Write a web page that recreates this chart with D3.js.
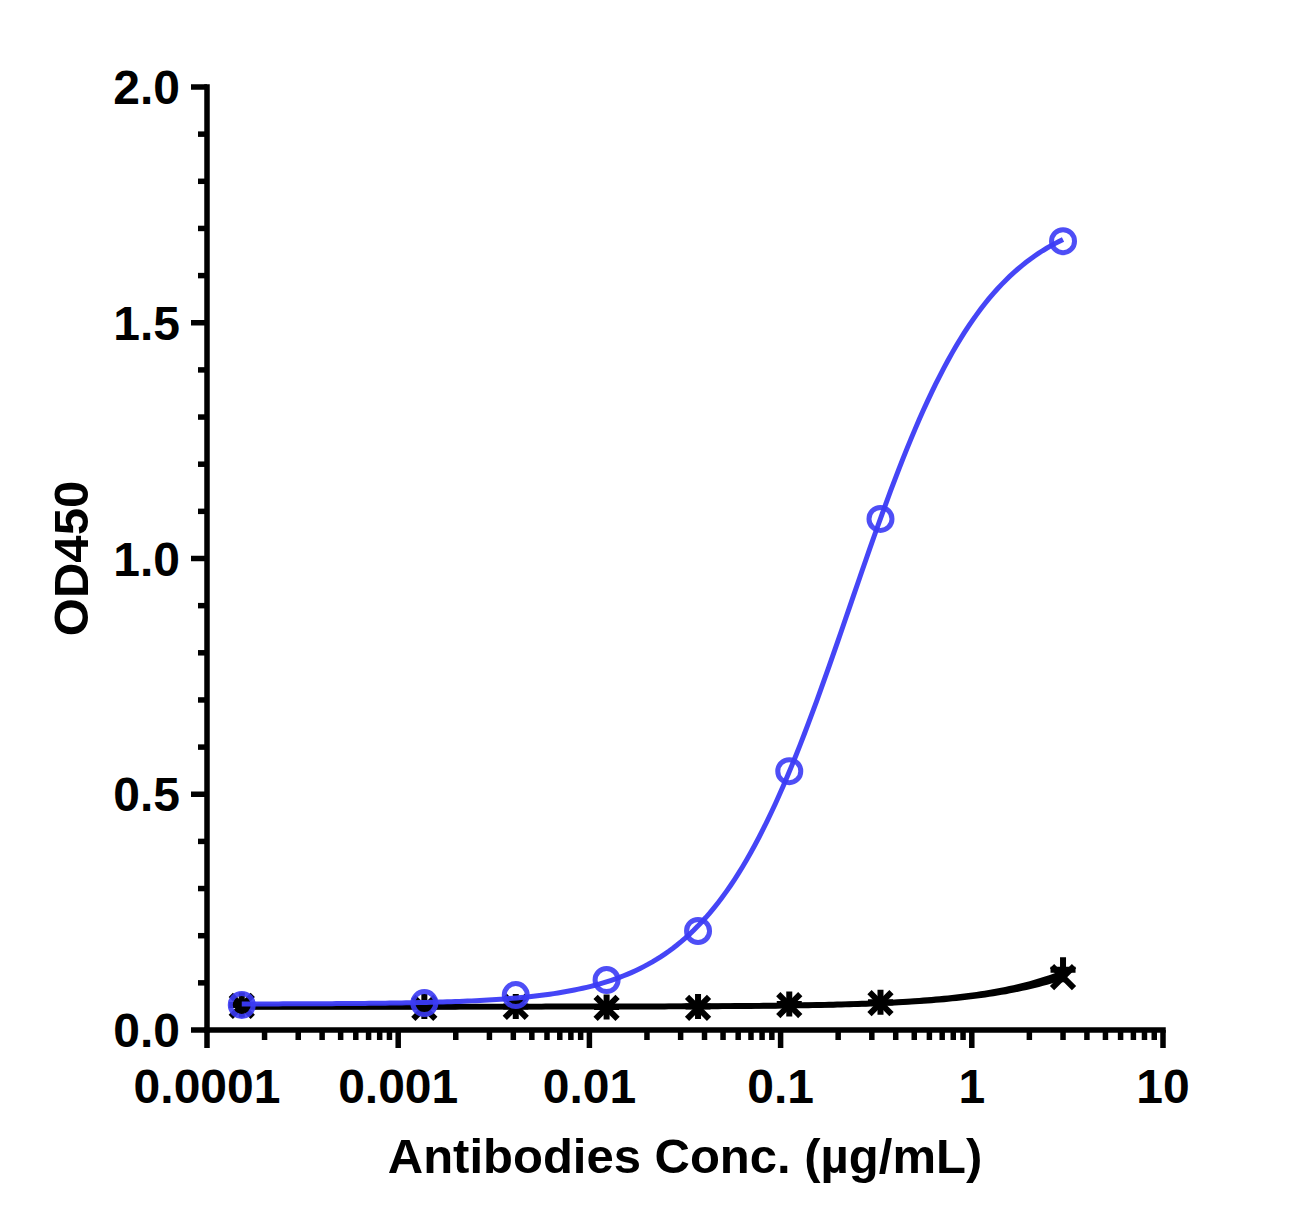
<!DOCTYPE html>
<meta charset="utf-8">
<head>
    <title>OD450 vs Antibodies Conc.</title>
    <script type="text/javascript" src="https://d3js.org/d3.v7.min.js"></script>
    <style>
        body { margin: 0; background: #fff; }
        text { font-family: "Liberation Sans", Arial, sans-serif; font-weight: bold; }
    </style>
</head>
<body>
<script>
    // data
    var conc = [0.000152, 0.00137, 0.00412, 0.0123, 0.037, 0.111, 0.333, 3];
    var odBlue = [0.053, 0.057, 0.074, 0.106, 0.21, 0.549, 1.084, 1.673];
    var odCross = [0.051, 0.047, 0.049, 0.047, 0.047, 0.053, 0.057, 0.112];
    var odPlus = [0.053, 0.050, 0.050, 0.049, 0.050, 0.055, 0.059, 0.128];

    // 4PL fit parameters for each series: bottom, top, EC50, hill
    var fitBlue = [0.055, 1.75, 0.232, 1.21];
    var fitCross = [0.049, 1.0, 42, 1.0];
    var fitPlus = [0.050, 1.0, 33, 1.05];

    var xTicks = [0.0001, 0.001, 0.01, 0.1, 1, 10];
    var xTickLabels = ["0.0001", "0.001", "0.01", "0.1", "1", "10"];
    var yTicks = [0, 0.5, 1.0, 1.5, 2.0];

    var width = 1316, height = 1228;
    var plotLeft = 207, plotRight = 1163, plotTop = 87, plotBottom = 1030;
    var blue = "#3b3bf5";
    var sw = 5.5;

    var svg = d3.select('body').append('svg')
        .attr('width', width)
        .attr('height', height);

    var x = d3.scaleLog().domain([0.0001, 10]).range([plotLeft, plotRight]);
    var y = d3.scaleLinear().domain([0, 2]).range([plotBottom, plotTop]);

    function fourPL(p, c) {
        return p[0] + (p[1] - p[0]) / (1 + Math.pow(p[2] / c, p[3]));
    }

    // minor ticks
    var xMinor = [];
    for (var e = -4; e < 1; e++) {
        for (var k = 2; k <= 9; k++) xMinor.push(k * Math.pow(10, e));
    }
    var yMinor = d3.range(0, 2.001, 0.1).filter(function(v) {
        return Math.abs(v * 2 - Math.round(v * 2)) > 1e-6;
    });

    // x axis
    var gx = svg.append('g').attr('transform', 'translate(0,' + plotBottom + ')');
    gx.append('line').attr('x1', plotLeft - sw / 2).attr('x2', plotRight + sw / 2)
        .attr('stroke', '#000').attr('stroke-width', sw);
    gx.selectAll('.xmaj').data(xTicks).enter().append('line')
        .attr('x1', function(d){ return x(d); }).attr('x2', function(d){ return x(d); })
        .attr('y1', 0).attr('y2', 18)
        .attr('stroke', '#000').attr('stroke-width', sw);
    gx.selectAll('.xmin').data(xMinor).enter().append('line')
        .attr('x1', function(d){ return x(d); }).attr('x2', function(d){ return x(d); })
        .attr('y1', 0).attr('y2', 10)
        .attr('stroke', '#000').attr('stroke-width', sw);
    gx.selectAll('.xlab').data(xTicks).enter().append('text')
        .attr('x', function(d){ return x(d); })
        .attr('y', 73)
        .attr('text-anchor', 'middle')
        .attr('font-size', 48)
        .text(function(d, i){ return xTickLabels[i]; });

    // y axis
    var gy = svg.append('g').attr('transform', 'translate(' + plotLeft + ',0)');
    gy.append('line').attr('y1', plotTop - sw / 2).attr('y2', plotBottom + sw / 2)
        .attr('stroke', '#000').attr('stroke-width', sw);
    gy.selectAll('.ymaj').data(yTicks).enter().append('line')
        .attr('y1', function(d){ return y(d); }).attr('y2', function(d){ return y(d); })
        .attr('x1', -16).attr('x2', 0)
        .attr('stroke', '#000').attr('stroke-width', sw);
    gy.selectAll('.ymin').data(yMinor).enter().append('line')
        .attr('y1', function(d){ return y(d); }).attr('y2', function(d){ return y(d); })
        .attr('x1', -9).attr('x2', 0)
        .attr('stroke', '#000').attr('stroke-width', sw);
    gy.selectAll('.ylab').data(yTicks).enter().append('text')
        .attr('x', -27)
        .attr('y', function(d){ return y(d) + 17; })
        .attr('text-anchor', 'end')
        .attr('font-size', 48)
        .text(function(d){ return d3.format('.1f')(d); });

    // axis titles
    svg.append('text')
        .attr('x', (plotLeft + plotRight) / 2)
        .attr('y', 1173)
        .attr('text-anchor', 'middle')
        .attr('font-size', 49)
        .text('Antibodies Conc. (µg/mL)');
    svg.append('text')
        .attr('transform', 'translate(88,' + ((plotTop + plotBottom) / 2) + ') rotate(-90)')
        .attr('text-anchor', 'middle')
        .attr('font-size', 49)
        .text('OD450');

    // fitted curves
    function curvePoints(p) {
        var lo = Math.log10(conc[0]), hi = Math.log10(conc[conc.length - 1]);
        return d3.range(0, 201).map(function(i) {
            var c = Math.pow(10, lo + (hi - lo) * i / 200);
            return [c, fourPL(p, c)];
        });
    }
    var line = d3.line()
        .x(function(d){ return x(d[0]); })
        .y(function(d){ return y(d[1]); });

    svg.append('path').datum(curvePoints(fitCross)).attr('d', line)
        .attr('fill', 'none').attr('stroke', '#000').attr('stroke-width', 5.5);
    svg.append('path').datum(curvePoints(fitPlus)).attr('d', line)
        .attr('fill', 'none').attr('stroke', '#000').attr('stroke-width', 5.5);

    // black markers: crosses
    var s = 11;
    var crossG = svg.append('g');
    conc.forEach(function(c, i) {
        var cx = x(c), cy = y(odCross[i]);
        crossG.append('path')
            .attr('d', 'M' + (cx - s) + ',' + (cy - s) + 'L' + (cx + s) + ',' + (cy + s) +
                       'M' + (cx - s) + ',' + (cy + s) + 'L' + (cx + s) + ',' + (cy - s))
            .attr('stroke', '#000').attr('stroke-width', 6).attr('fill', 'none');
    });
    // black markers: plus
    var p = 12.5;
    var plusG = svg.append('g');
    conc.forEach(function(c, i) {
        var cx = x(c), cy = y(odPlus[i]);
        plusG.append('path')
            .attr('d', 'M' + cx + ',' + (cy - p) + 'L' + cx + ',' + (cy + p) +
                       'M' + (cx - p) + ',' + cy + 'L' + (cx + p) + ',' + cy)
            .attr('stroke', '#000').attr('stroke-width', 6).attr('fill', 'none');
    });

    // blue curve and circles
    svg.append('path').datum(curvePoints(fitBlue)).attr('d', line)
        .attr('fill', 'none').attr('stroke', blue).attr('stroke-width', 5)
        .attr('stroke-opacity', 0.95);
    svg.selectAll('.circ').data(conc).enter().append('circle')
        .attr('cx', function(d){ return x(d); })
        .attr('cy', function(d, i){ return y(odBlue[i]); })
        .attr('r', 11.5)
        .attr('fill', 'none')
        .attr('stroke', blue)
        .attr('stroke-width', 5)
        .attr('stroke-opacity', 0.9);
</script>
</body>
</html>
